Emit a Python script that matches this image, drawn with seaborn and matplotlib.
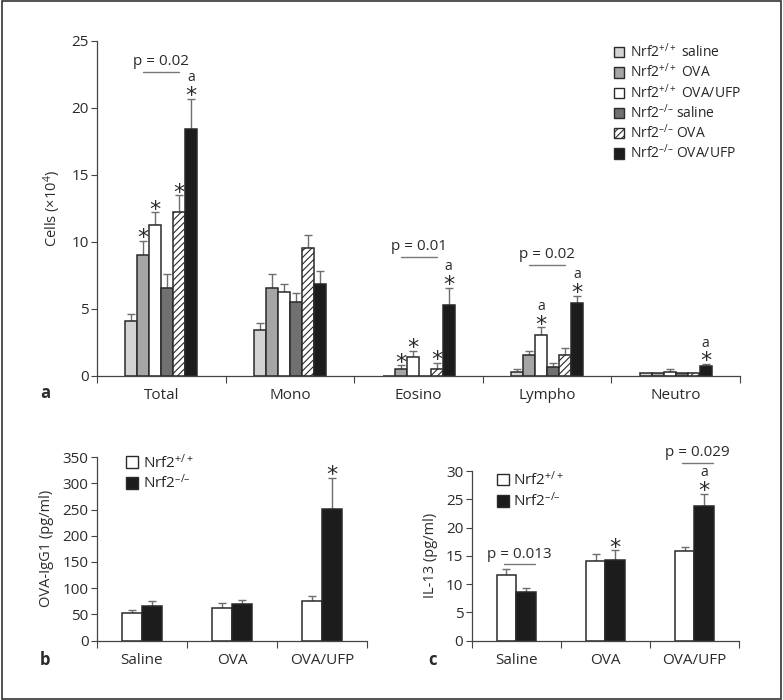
import matplotlib
matplotlib.use("Agg")
import matplotlib.pyplot as plt
from matplotlib.patches import Patch, Rectangle
import numpy as np
import pandas as pd
import seaborn as sns

# ---- data ----
cell_types = ["Total", "Mono", "Eosino", "Lympho", "Neutro"]
groups_a = ["Nrf2$^{+/+}$ saline", "Nrf2$^{+/+}$ OVA", "Nrf2$^{+/+}$ OVA/UFP",
            "Nrf2$^{–/–}$ saline", "Nrf2$^{–/–}$ OVA", "Nrf2$^{–/–}$ OVA/UFP"]
# one list per group, values per cell type (x10^4)
wt_saline = [4.1, 3.4, 0.03, 0.3, 0.2]
wt_ova = [9.0, 6.6, 0.5, 1.55, 0.2]
wt_ovaufp = [11.3, 6.3, 1.4, 3.05, 0.3]
ko_saline = [6.6, 5.5, 0.0, 0.67, 0.25]
ko_ova = [12.2, 9.55, 0.5, 1.6, 0.25]
ko_ovaufp = [18.4, 6.9, 5.3, 5.45, 0.72]
# SEM
wt_saline_err = [0.5, 0.55, 0.0, 0.2, 0.0]
wt_ova_err = [1.1, 1.0, 0.3, 0.35, 0.0]
wt_ovaufp_err = [0.9, 0.55, 0.5, 0.6, 0.25]
ko_saline_err = [1.0, 0.7, 0.0, 0.3, 0.0]
ko_ova_err = [1.3, 0.95, 0.5, 0.5, 0.0]
ko_ovaufp_err = [2.3, 0.9, 1.3, 0.55, 0.18]

treatments = ["Saline", "OVA", "OVA/UFP"]
genotypes = ["Nrf2$^{+/+}$", "Nrf2$^{–/–}$"]
igg1_wt = [52.8, 63, 75.6]
igg1_ko = [67, 70.5, 251.4]
igg1_wt_err = [5.5, 9, 9]
igg1_ko_err = [8.5, 6.5, 59]
il13_wt = [11.7, 14.1, 15.85]
il13_ko = [8.6, 14.2, 23.8]
il13_wt_err = [1.0, 1.3, 0.7]
il13_ko_err = [0.8, 1.8, 2.2]

colors_a = ["#d3d3d3", "#a5a5a5", "#ffffff", "#707070", "#ffffff", "#1c1c1c"]
colors_bc = ["#ffffff", "#1c1c1c"]
EDGE = "#2a2a2a"
ERRC = "#6e6e6e"

sns.set_style("white")
plt.rcParams["font.family"] = ["Open Sans", "DejaVu Sans"]
plt.rcParams["mathtext.fontset"] = "custom"
plt.rcParams["mathtext.rm"] = "Open Sans"
plt.rcParams["mathtext.it"] = "Open Sans"
plt.rcParams["hatch.color"] = "#333333"
plt.rcParams["hatch.linewidth"] = 0.8
TXT = "#2b2b2b"
FS = 10


def style_axis(ax, ymax, yticks, ylabel, ncat):
    sns.despine(ax=ax)
    ax.set_ylim(0, ymax)
    ax.set_xlim(-0.5, ncat - 0.5)
    ax.set_yticks(yticks)
    ax.tick_params(axis="y", direction="out", length=4, width=0.8, colors="#444444",
                   labelcolor=TXT, labelsize=FS + 1, pad=2, left=True)
    ax.tick_params(axis="x", length=0, labelsize=FS + 1, labelcolor=TXT, pad=9)
    ax.set_xticks(np.arange(-0.5, ncat, 1.0), minor=True)
    ax.tick_params(axis="x", which="minor", direction="out", length=5, width=0.8,
                   colors="#444444", bottom=True)
    for s in ["left", "bottom"]:
        ax.spines[s].set_color("#444444")
        ax.spines[s].set_linewidth(0.9)
    ax.set_xlabel("")
    ax.set_ylabel(ylabel, fontsize=FS + 0.5, color=TXT, labelpad=6)


def add_errors(ax, errs):
    tops = []
    for cont, err in zip(ax.containers, errs):
        row = []
        for bar, e in zip(cont, err):
            x = bar.get_x() + bar.get_width() / 2
            h = bar.get_height()
            if e > 0:
                ax.errorbar(x, h, yerr=[[0], [e]], fmt="none", ecolor=ERRC,
                            elinewidth=1, capsize=3, capthick=1, zorder=1)
            row.append((x, h + e))
        tops.append(row)
    return tops


def star(ax, pos, with_a=False):
    # offsets in points above the error-bar top
    ax.annotate("*", xy=pos, xytext=(0, -2.5), textcoords="offset points",
                ha="center", va="baseline", fontsize=16, color=TXT,
                fontfamily="DejaVu Sans", annotation_clip=False)
    if with_a:
        ax.annotate("a", xy=pos, xytext=(0, 12.5), textcoords="offset points",
                    ha="center", va="baseline", fontsize=FS, color=TXT,
                    annotation_clip=False)


def pline(ax, x0, x1, y, label):
    ax.plot([x0, x1], [y, y], color="#777777", lw=1, clip_on=False)
    ax.annotate(label, xy=((x0 + x1) / 2, y), xytext=(0, 2), textcoords="offset points",
                ha="center", va="bottom", fontsize=FS + 1, color=TXT,
                annotation_clip=False)


fig = plt.figure(figsize=(7.83, 7.0), dpi=100)

# ---- panel a ----
ax_a = fig.add_axes([0.1239, 0.4629, 0.8212, 0.4786])
vals_a = [wt_saline, wt_ova, wt_ovaufp, ko_saline, ko_ova, ko_ovaufp]
errs_a = [wt_saline_err, wt_ova_err, wt_ovaufp_err, ko_saline_err, ko_ova_err, ko_ovaufp_err]
df_a = pd.DataFrame([(c, g, v[i]) for g, v in zip(groups_a, vals_a)
                     for i, c in enumerate(cell_types)], columns=["cell", "group", "value"])
sns.barplot(data=df_a, x="cell", y="value", hue="group", order=cell_types,
            hue_order=groups_a, palette=colors_a, width=0.56, edgecolor=EDGE,
            linewidth=1.1, errorbar=None, legend=False, saturation=1, ax=ax_a, zorder=2)
for bar in ax_a.containers[4]:
    bar.set_hatch("/////")
style_axis(ax_a, 25, [0, 5, 10, 15, 20, 25], "Cells (×10$^{4}$)", 5)
tops = add_errors(ax_a, errs_a)
star(ax_a, tops[1][0])
star(ax_a, tops[2][0])
star(ax_a, tops[4][0])
star(ax_a, tops[5][0], True)
star(ax_a, tops[1][2])
star(ax_a, tops[2][2])
star(ax_a, tops[4][2])
star(ax_a, tops[5][2], True)
star(ax_a, tops[2][3], True)
star(ax_a, tops[5][3], True)
star(ax_a, tops[5][4], True)
pline(ax_a, tops[1][0][0], tops[4][0][0], 22.7, "p = 0.02")
pline(ax_a, tops[1][2][0], tops[4][2][0], 8.9, "p = 0.01")
pline(ax_a, tops[1][3][0], tops[4][3][0], 8.3, "p = 0.02")
handles = [Patch(facecolor=c, edgecolor=EDGE, linewidth=1, hatch=("/////" if i == 4 else None))
           for i, c in enumerate(colors_a)]
ax_a.legend(handles, groups_a, loc="upper left", bbox_to_anchor=(0.795, 1.012), frameon=False,
            fontsize=FS, handlelength=0.75, handleheight=0.75, handletextpad=0.45,
            labelspacing=0.12, borderaxespad=0.0)
fig.text(40 / 783, 1 - 393 / 700, "a", fontsize=FS + 2, fontweight="bold", color=TXT,
         ha="left", va="center")

# ---- panel b ----
ax_b = fig.add_axes([0.1239, 0.0847, 0.3448, 0.2624])
df_b = pd.DataFrame([(t, g, v[i]) for g, v in zip(genotypes, [igg1_wt, igg1_ko])
                     for i, t in enumerate(treatments)], columns=["treat", "geno", "value"])
sns.barplot(data=df_b, x="treat", y="value", hue="geno", order=treatments, hue_order=genotypes,
            palette=colors_bc, width=0.44, edgecolor=EDGE, linewidth=1.1, errorbar=None,
            legend=False, saturation=1, ax=ax_b, zorder=2)
style_axis(ax_b, 350, np.arange(0, 351, 50), "OVA-IgG1 (pg/ml)", 3)
tops_b = add_errors(ax_b, [igg1_wt_err, igg1_ko_err])
star(ax_b, tops_b[1][2])
hb = [Patch(facecolor=c, edgecolor=EDGE, linewidth=1) for c in colors_bc]
ax_b.legend(hb, genotypes, loc="upper left", bbox_to_anchor=(0.085, 1.055), frameon=False,
            fontsize=FS + 1, handlelength=0.8, handleheight=0.8, handletextpad=0.3,
            labelspacing=0.12, borderaxespad=0.0)
fig.text(40 / 783, 1 - 660 / 700, "b", fontsize=FS + 2, fontweight="bold", color=TXT,
         ha="left", va="center")

# ---- panel c ----
ax_c = fig.add_axes([0.6024, 0.0847, 0.3414, 0.2424])
df_c = pd.DataFrame([(t, g, v[i]) for g, v in zip(genotypes, [il13_wt, il13_ko])
                     for i, t in enumerate(treatments)], columns=["treat", "geno", "value"])
sns.barplot(data=df_c, x="treat", y="value", hue="geno", order=treatments, hue_order=genotypes,
            palette=colors_bc, width=0.44, edgecolor=EDGE, linewidth=1.1, errorbar=None,
            legend=False, saturation=1, ax=ax_c, zorder=2)
style_axis(ax_c, 30, np.arange(0, 31, 5), "IL-13 (pg/ml)", 3)
tops_c = add_errors(ax_c, [il13_wt_err, il13_ko_err])
star(ax_c, tops_c[1][1])
star(ax_c, tops_c[1][2], True)
pline(ax_c, tops_c[0][0][0] - 0.03, tops_c[1][0][0] + 0.1, 13.5, "p = 0.013")
pline(ax_c, tops_c[0][2][0] - 0.03, tops_c[1][2][0] + 0.1, 31.4, "p = 0.029")
ax_c.legend(hb, genotypes, loc="upper left", bbox_to_anchor=(0.07, 1.04), frameon=False,
            fontsize=FS + 1, handlelength=0.8, handleheight=0.8, handletextpad=0.3,
            labelspacing=0.18, borderaxespad=0.0)
fig.text(428 / 783, 1 - 660 / 700, "c", fontsize=FS + 2, fontweight="bold", color=TXT,
         ha="left", va="center")

# thin frame around the whole figure
fig.add_artist(Rectangle((0.002, 0.002), 0.996, 0.996, transform=fig.transFigure,
                         fill=False, edgecolor="#333333", linewidth=1.2))

fig.savefig("out.png", dpi=100)
